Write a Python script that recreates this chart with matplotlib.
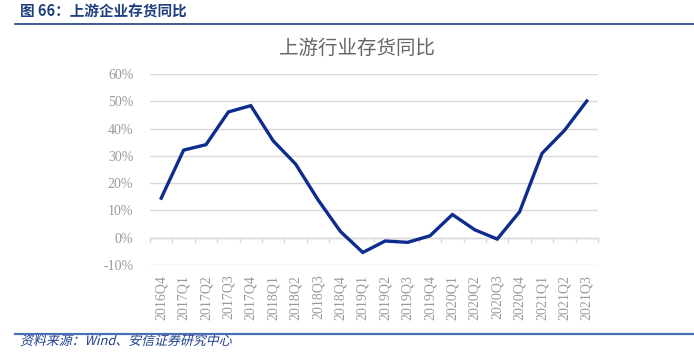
import matplotlib
matplotlib.use("Agg")
import matplotlib.pyplot as plt
from matplotlib.lines import Line2D
from matplotlib.ticker import FuncFormatter
from matplotlib.textpath import TextPath
from matplotlib.patches import PathPatch
from matplotlib.font_manager import FontProperties
from matplotlib.transforms import Affine2D

categories = ["2016Q4", "2017Q1", "2017Q2", "2017Q3", "2017Q4",
              "2018Q1", "2018Q2", "2018Q3", "2018Q4",
              "2019Q1", "2019Q2", "2019Q3", "2019Q4",
              "2020Q1", "2020Q2", "2020Q3", "2020Q4",
              "2021Q1", "2021Q2", "2021Q3"]
values = [14.5, 32.1, 34.1, 46.1, 48.4,
          35.5, 27.0, 13.9, 2.3,
          -5.4, -1.2, -1.7, 0.7,
          8.5, 2.9, -0.5, 9.5,
          30.9, 39.3, 50.1]
y_ticks = [-10, 0, 10, 20, 30, 40, 50, 60]

header_text = "图 66：上游企业存货同比"
chart_title = "上游行业存货同比"
source_text = "资料来源：Wind、安信证券研究中心"

cjk = ["Noto Sans CJK SC", "DejaVu Sans"]
serif = ["Liberation Serif", "DejaVu Serif"]
tick_color = "#9a9a9a"

fig = plt.figure(figsize=(6.94, 3.63), dpi=100)
ax = fig.add_axes([150/694, 1-265/363, 448/694, 191/363])

x = list(range(len(categories)))
ax.plot(x, values, color="#0D2C8E", lw=2.4, solid_joinstyle="miter", zorder=3)

ax.set_xlim(-0.5, len(categories) - 0.5)
ax.set_ylim(-10, 60)
ax.set_yticks(y_ticks)
ax.yaxis.set_major_formatter(FuncFormatter(lambda v, p: f"{v:.0f}%"))
ax.grid(axis="y", color="#d9d9d9", lw=1)
ax.set_axisbelow(True)
for s in ax.spines.values():
    s.set_visible(False)
ax.tick_params(axis="y", length=0, pad=12, labelcolor=tick_color, labelsize=10)
for lab in ax.get_yticklabels():
    lab.set_family(serif)

ax.set_xticks(x)
ax.set_xticklabels(categories, rotation=90, family=serif, color=tick_color, fontsize=10)
ax.tick_params(axis="x", length=0, pad=7)

ax.axhline(0, color="#d9d9d9", lw=1, zorder=1)
for b in range(len(categories) + 1):
    ax.plot([b - 0.5, b - 0.5], [0, -1.5], color="#d9d9d9", lw=1, zorder=1, clip_on=False)

fig.text(357/694, 1-48/363, chart_title, ha="center", va="center",
         family=cjk, fontsize=14, color="#666666")

fig.text(20/694, 1-12/363, header_text, ha="left", va="center",
         family=cjk, fontsize=10.5, fontweight="bold", color="#1F3F7F")
fig.add_artist(Line2D([15/694, 1], [1-24/363, 1-24/363], color="#1F3F7F", lw=1.2))
fig.add_artist(Line2D([15/694, 1], [1-334/363, 1-334/363], color="#4A6FB5", lw=1.6))

# italic (skewed) source note
tp = TextPath((0, 0), source_text, size=9.3 * 100 / 72,
              prop=FontProperties(family="Noto Sans CJK SC"))
tr = Affine2D().skew_deg(14, 0).translate(20, 363 - 345)
fig.add_artist(PathPatch(tp, transform=tr, facecolor="#1F3F8F", edgecolor="none"))

fig.savefig("out.png", dpi=100)
